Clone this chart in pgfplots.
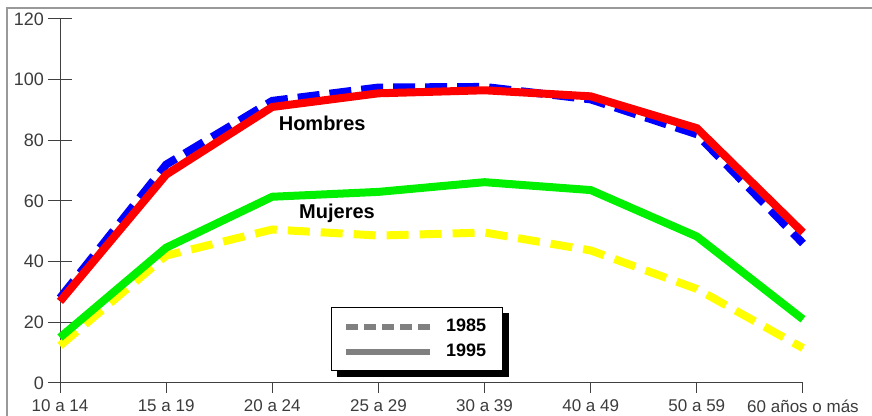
\documentclass[border=0pt]{standalone}
\usepackage{fontspec}
\setmainfont{Liberation Sans}
\usepackage{pgfplots}
\pgfplotsset{compat=1.18}
\pgfdeclarelayer{background}
\pgfsetlayers{background,main}
\definecolor{lblue}{RGB}{0,0,255}
\definecolor{lred}{RGB}{255,0,0}
\definecolor{lgreen}{RGB}{0,240,0}
\definecolor{lyellow}{RGB}{255,255,0}
\definecolor{tickgray}{RGB}{60,60,60}
\begin{document}
\begin{tikzpicture}
\useasboundingbox (0,0) rectangle (436pt,208pt);
\draw[gray!80, line width=0.8pt] (3.5pt,0pt) -- (3.5pt,204pt) -- (436pt,204pt);
\begin{axis}[
  at={(30pt,16.5pt)}, anchor=south west,
  scale only axis, width=371.5pt, height=182pt,
  xmin=0, xmax=7, ymin=0, ymax=120,
  axis lines=left,
  axis line style={-, black!75, line width=0.5pt},
  xtick={0,...,7},
  xticklabels={10 a 14,15 a 19,20 a 24,25 a 29,30 a 39,40 a 49,50 a 59,60 años o más},
  ytick={0,20,...,120},
  minor ytick={0,20,...,120},
  xtick align=outside, ytick align=center,
  major tick length=5pt, minor tick length=12pt,
  major x tick style={black!75, line width=0.5pt},
  major y tick style={draw=none},
  minor y tick style={black!75, line width=0.5pt},
  x tick label style={font=\fontsize{8.5}{10}\selectfont, text=tickgray},
  y tick label style={font=\fontsize{9}{10}\selectfont, text=tickgray, xshift=-2pt},
  /pgf/number format/assume math mode=true,
  clip=false,
  legend style={name=leg, at={(axis cs:3.36,14.4)}, anchor=center, draw=black, line width=0.5pt,
    fill=white, font=\bfseries\fontsize{9}{10}\selectfont,
    inner xsep=6pt, inner ysep=3.5pt, row sep=1pt,
    /tikz/every odd column/.append style={column sep=4.5pt}},
  legend cell align=left,
  legend image code/.code={\draw[#1] (0pt,0pt) -- (42pt,0pt);},
]
\addplot[lblue, line width=4pt, dash pattern=on 11pt off 5pt, forget plot] coordinates {
 (0,28) (1,72) (2,93) (3,97.4) (4,97.6) (5,93.5) (6,82) (7,46)};
\addplot[lyellow, line width=4pt, dash pattern=on 11pt off 5.5pt, forget plot] coordinates {
 (0,12.3) (1,42) (2,50.6) (3,48.6) (4,49.6) (5,43.7) (6,31) (7,11.5)};
\addplot[lred, line width=4pt, forget plot] coordinates {
 (0,26.9) (1,68.7) (2,91) (3,95.5) (4,96.5) (5,94.5) (6,84) (7,49.6)};
\addplot[lgreen, line width=4pt, forget plot] coordinates {
 (0,15) (1,44.6) (2,61.4) (3,63) (4,66.2) (5,63.6) (6,48.3) (7,21)};
\addlegendimage{gray, line width=3pt, dash pattern=on 6pt off 3pt}
\addlegendentry{1985\hspace{4pt}}
\addlegendimage{gray, line width=3pt}
\addlegendentry{1995\hspace{4pt}}
\node[font=\bfseries\fontsize{10}{12}\selectfont] at (axis cs:2.47,85.5) {Hombres};
\node[font=\bfseries\fontsize{10}{12}\selectfont] at (axis cs:2.61,55.8) {Mujeres};
\end{axis}
\begin{pgfonlayer}{background}
\fill[black] ([shift={(3pt,-3pt)}]leg.south west) rectangle ([shift={(3pt,-3pt)}]leg.north east);
\end{pgfonlayer}
\end{tikzpicture}
\end{document}
